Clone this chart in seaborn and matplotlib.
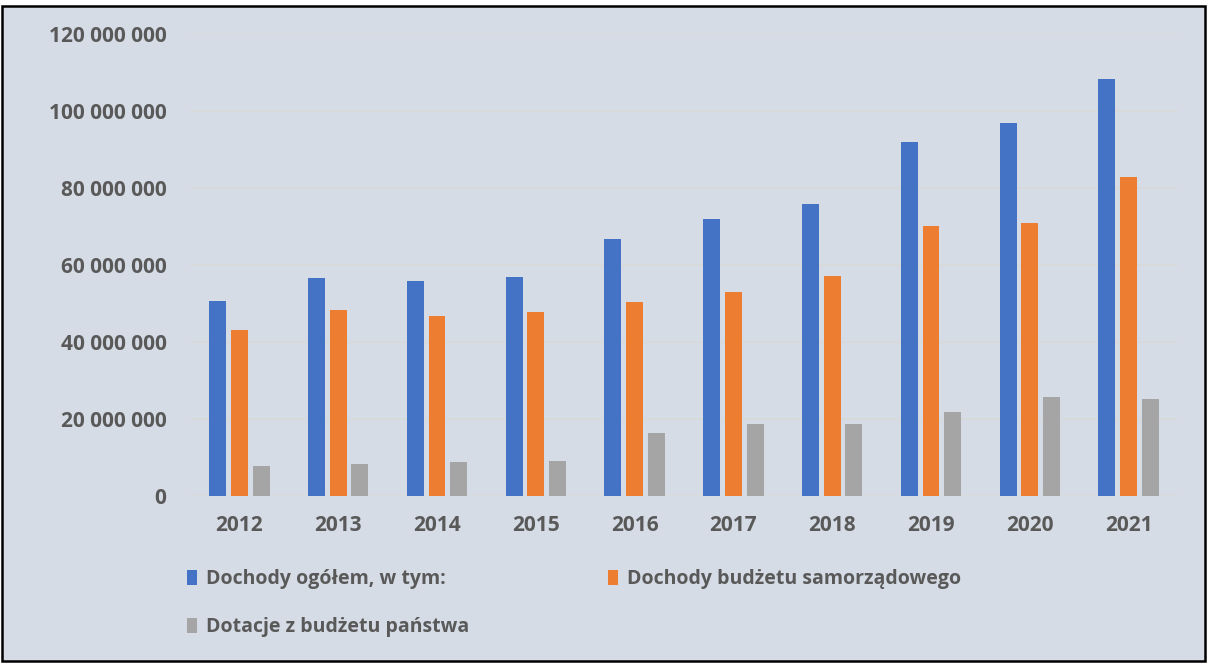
import matplotlib
matplotlib.use("Agg")
import matplotlib.pyplot as plt
from matplotlib.patches import Rectangle
from matplotlib.ticker import FuncFormatter
import pandas as pd
import seaborn as sns

years = ["2012", "2013", "2014", "2015", "2016", "2017", "2018", "2019", "2020", "2021"]
dochody_ogolem = [50.7, 56.7, 55.8, 57.0, 66.7, 71.9, 75.8, 91.9, 96.8, 108.2]
dochody_samorzad = [43.0, 48.2, 46.8, 47.7, 50.3, 53.0, 57.1, 70.0, 70.8, 82.8]
dotacje_panstwa = [7.7, 8.3, 8.9, 9.2, 16.4, 18.8, 18.6, 21.7, 25.8, 25.3]
series_names = ["Dochody ogółem, w tym:", "Dochody budżetu samorządowego", "Dotacje z budżetu państwa"]
colors = ["#4472C4", "#ED7D31", "#A5A5A5"]

rows = []
for name, vals in zip(series_names, [dochody_ogolem, dochody_samorzad, dotacje_panstwa]):
    for y, v in zip(years, vals):
        rows.append({"rok": y, "seria": name, "wartosc": v * 1_000_000})
df = pd.DataFrame(rows)

bg = "#D6DCE5"
txt = "#595959"
sns.set_style("white")
plt.rcParams["font.family"] = ["Open Sans", "DejaVu Sans"]

fig = plt.figure(figsize=(12.08, 6.64), dpi=100)
fig.patch.set_facecolor("white")
frame = Rectangle((2 / 1208, 3 / 664), 1203 / 1208, 655 / 664, transform=fig.transFigure,
                  facecolor=bg, edgecolor="black", linewidth=1.8, zorder=-10)
fig.add_artist(frame)

ax = fig.add_axes([190 / 1208, 168 / 664, 988 / 1208, 462 / 664])
ax.set_facecolor(bg)
sns.barplot(data=df, x="rok", y="wartosc", hue="seria", palette=colors, width=0.66, gap=0.22,
            saturation=1, linewidth=0, ax=ax)

ax.set_ylim(0, 120_000_000)
ax.set_yticks(range(0, 120_000_001, 20_000_000))
ax.yaxis.set_major_formatter(FuncFormatter(lambda v, p: f"{int(v):,}".replace(",", " ")))
ax.grid(axis="y", color="#D9D9D9", linewidth=1.2)
ax.set_axisbelow(True)
for s in ax.spines.values():
    s.set_visible(False)
ax.set_xlabel("")
ax.set_ylabel("")
ax.tick_params(axis="both", length=0, labelsize=15, labelcolor=txt)
ax.tick_params(axis="y", pad=17)
ax.tick_params(axis="x", pad=14)
for lab in ax.get_xticklabels() + ax.get_yticklabels():
    lab.set_fontweight("bold")

# kolejnosc wierszami: niebieski, pomaranczowy / szary
handles, labels = ax.get_legend_handles_labels()
order = [0, 2, 1]
leg = ax.legend([handles[i] for i in order], [labels[i] for i in order],
                loc="upper left", bbox_to_anchor=(-0.021, -0.12), ncol=2, frameon=False,
                handlelength=0.55, handleheight=0.8, handletextpad=0.45, columnspacing=7.1,
                labelspacing=1.45, fontsize=14)
for t in leg.get_texts():
    t.set_color(txt)
    t.set_fontweight("bold")

fig.savefig("out.png", dpi=100)
